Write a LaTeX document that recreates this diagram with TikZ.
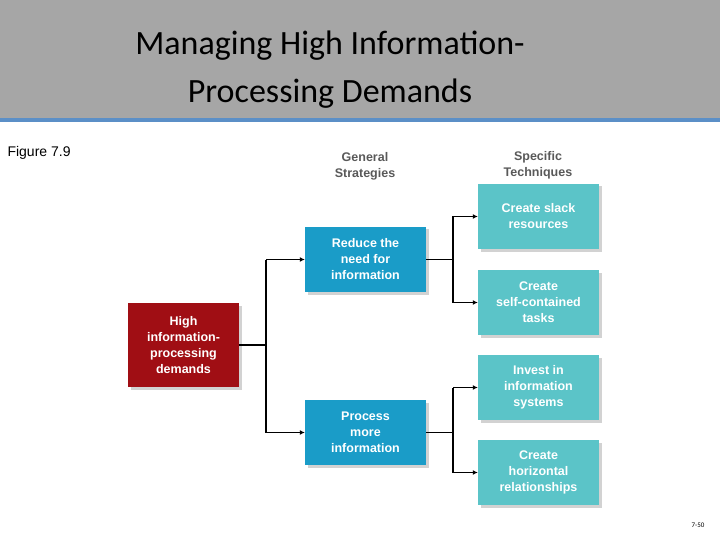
\documentclass[tikz,border=0pt]{standalone}
\usepackage{fontspec}
\setmainfont{Carlito}
\newfontfamily\arialf{Liberation Sans}
\usetikzlibrary{arrows.meta,shadows}
\definecolor{hdr}{HTML}{A6A6A6}
\definecolor{hline}{HTML}{5B8FC7}
\definecolor{redb}{HTML}{A00E14}
\definecolor{blueb}{HTML}{1A9CC8}
\definecolor{tealb}{HTML}{5BC4C8}
\tikzset{
 box/.style={minimum width=121pt,minimum height=65pt,inner sep=2pt,align=center,text=white,font=\arialf\bfseries\fontsize{12.5}{16}\selectfont,drop shadow={shadow xshift=2.5pt,shadow yshift=-2.5pt,fill=black!35}},
 conn/.style={line width=1.3pt},
 arr/.style={line width=1pt,-{Latex[length=5pt,width=5pt]}},
 hd/.style={align=center,font=\arialf\bfseries\fontsize{12.5}{16}\selectfont,text=black!65},
}
\begin{document}
\begin{tikzpicture}[x=1pt,y=-1pt]
\useasboundingbox (0,0) rectangle (720,540);
\fill[hdr] (0,0) rectangle (720,118);
\fill[hline] (0,118) rectangle (720,122);
\node[align=center,font=\fontsize{34}{48}\selectfont] (title) at (330,70) {Managing High Information-\\Processing Demands};
\node[anchor=west,font=\arialf\fontsize{14}{16}\selectfont] (fig) at (4,153) {Figure 7.9};
\node[anchor=east,font=\fontsize{7}{8}\selectfont] (pg) at (708,525) {7-50};
\node[hd] (gs) at (365,166) {General\\Strategies};
\node[hd] (st) at (538,165) {Specific\\Techniques};
\node[box,fill=redb,minimum width=111pt,minimum height=84pt] (high) at (183.5,345) {High\\information-\\processing\\demands};
\node[box,fill=blueb] (red) at (365.5,259.5) {Reduce the\\need for\\information};
\node[box,fill=blueb] (proc) at (365.5,432.5) {Process\\more\\information};
\node[box,fill=tealb] (slack) at (538.5,216.5) {Create slack\\resources};
\node[box,fill=tealb] (self) at (538.5,302.5) {Create\\self-contained\\tasks};
\node[box,fill=tealb] (inv) at (538.5,387.5) {Invest in\\information\\systems};
\node[box,fill=tealb] (hor) at (538.5,472.5) {Create\\horizontal\\relationships};
\coordinate (t1) at (266,345);
\coordinate (t2) at (453,259.5);
\coordinate (t3) at (453,432.5);
\draw[conn] (high.east) -- (t1);
\draw[conn] (t1 |- red.west) -- (t1 |- proc.west);
\draw[arr] (t1 |- red.west) -- (red.west);
\draw[arr] (t1 |- proc.west) -- (proc.west);
\draw[conn] (red.east) -- (t2);
\draw[conn] (t2 |- slack.west) -- (t2 |- self.west);
\draw[arr] (t2 |- slack.west) -- (slack.west);
\draw[arr] (t2 |- self.west) -- (self.west);
\draw[conn] (proc.east) -- (t3);
\draw[conn] (t3 |- inv.west) -- (t3 |- hor.west);
\draw[arr] (t3 |- inv.west) -- (inv.west);
\draw[arr] (t3 |- hor.west) -- (hor.west);
\end{tikzpicture}
\end{document}
